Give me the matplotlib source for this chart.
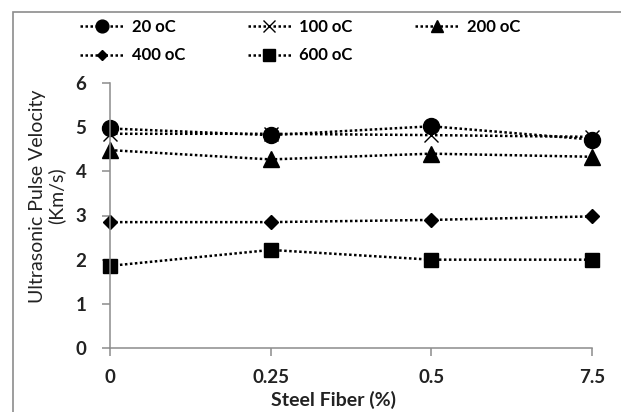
import numpy as np
import matplotlib.pyplot as plt
from matplotlib.patches import Rectangle

plt.rcParams['font.family'] = ['Lato', 'DejaVu Sans']

fiber = ['0', '0.25', '0.5', '7.5']
upv_20 = [4.97, 4.82, 5.02, 4.72]
upv_100 = [4.85, 4.85, 4.82, 4.78]
upv_200 = [4.48, 4.27, 4.40, 4.33]
upv_400 = [2.85, 2.85, 2.90, 2.98]
upv_600 = [1.86, 2.22, 2.00, 2.00]

if __name__ == '__main__':
    fig = plt.figure(figsize=(6.21, 4.12), dpi=100)
    ax = fig.add_axes([110 / 621, 1 - 348 / 412, 482 / 621, 265 / 412])
    x = np.arange(len(fiber))

    style = dict(color='black', linestyle=(0, (1, 1)), linewidth=1.8, clip_on=False)
    h100, = ax.plot(x, upv_100, marker='x', markersize=10, markeredgewidth=1.0, label='100 oC', **style)
    h20, = ax.plot(x, upv_20, marker='o', markersize=11.5, label='20 oC', **style)
    h200, = ax.plot(x, upv_200, marker='^', markersize=11, label='200 oC', **style)
    h400, = ax.plot(x, upv_400, marker='D', markersize=7, label='400 oC', **style)
    h600, = ax.plot(x, upv_600, marker='s', markersize=10, label='600 oC', **style)

    ax.set_xlim(0, 3)
    ax.set_ylim(0, 6)
    ax.set_xticks(x)
    ax.set_xticklabels(fiber)
    ax.set_yticks(range(7))
    for s in ['top', 'right']:
        ax.spines[s].set_visible(False)
    for s in ['left', 'bottom']:
        ax.spines[s].set_color('#8c8c8c')
        ax.spines[s].set_linewidth(1.1)
    ax.tick_params(axis='both', colors='#8c8c8c', labelcolor='#222222', length=6, width=1.1,
                   labelsize=13.5)
    ax.tick_params(axis='y', pad=11)
    ax.tick_params(axis='x', pad=9)
    for t in ax.get_xticklabels() + ax.get_yticklabels():
        t.set_fontweight('bold')

    fig.text(47 / 621, 1 - 196 / 412, 'Ultrasonic Pulse Velocity\n(Km/s)', rotation=90,
             ha='center', va='center', multialignment='center', fontsize=14,
             color='#222222', linespacing=1.1)
    fig.text(333 / 621, 1 - 400 / 412, 'Steel Fiber (%)', ha='center', va='center',
             fontsize=14, fontweight='bold', color='#222222')

    # column-first fill, so order gives rows 20/100/200 and 400/600
    fig.legend([h20, h400, h100, h600, h200],
               ['20 oC', '400 oC', '100 oC', '600 oC', '200 oC'],
               loc='upper left', bbox_to_anchor=(80 / 621, 1 - 19 / 412), ncol=3,
               frameon=False, borderpad=0, borderaxespad=0, handlelength=2.6,
               handletextpad=0.5, columnspacing=3.75, labelspacing=0.75, markerscale=0.8,
               prop={'size': 12, 'weight': 'bold'})

    fig.patches.append(Rectangle((13 / 621, -0.1), 1.1, 1 - 12 / 412 + 0.1,
                                 transform=fig.transFigure, fill=False,
                                 edgecolor='#8c8c8c', linewidth=1.2))

    fig.savefig('out.png', dpi=100)
